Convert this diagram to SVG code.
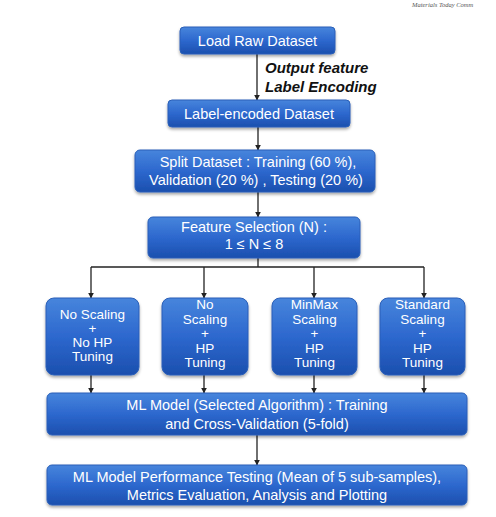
<svg xmlns="http://www.w3.org/2000/svg" width="496" height="517" viewBox="0 0 496 517">
<defs>
<linearGradient id="g" x1="0" y1="0" x2="0" y2="1">
<stop offset="0" stop-color="#4785dc"/>
<stop offset="0.5" stop-color="#2d68ce"/>
<stop offset="1" stop-color="#1b4fae"/>
</linearGradient>
<filter id="sh" x="-10%" y="-10%" width="120%" height="140%">
<feDropShadow dx="0" dy="2" stdDeviation="1.5" flood-color="#000" flood-opacity="0.35"/>
</filter>
<marker id="ar" viewBox="0 0 10 10" refX="9" refY="5" markerWidth="6" markerHeight="6" orient="auto" markerUnits="userSpaceOnUse">
<path d="M0,0 L10,5 L0,10 z" fill="#222"/>
</marker>
</defs>
<style>
.box{fill:url(#g);stroke:#2a5fb8;stroke-width:1;filter:url(#sh)}
.t{font-family:"Liberation Sans",Arial,sans-serif;font-size:14.5px;fill:#fff;text-anchor:middle}
.s{font-family:"Liberation Sans",Arial,sans-serif;font-size:13.5px;fill:#fff;text-anchor:middle}
.c{stroke:#222;stroke-width:1.3;fill:none}
.lab{font-family:"Liberation Sans",Arial,sans-serif;font-size:15px;font-weight:bold;font-style:italic;fill:#111}
</style>
<rect width="496" height="517" fill="#fff"/>
<text x="412" y="7" font-family="Liberation Serif,serif" font-size="6.5" font-style="italic" fill="#555">Materials Today Comm</text>

<g id="connectors">
<line class="c" x1="257" y1="54" x2="257" y2="100" marker-end="url(#ar)"/>
<line class="c" x1="258" y1="127" x2="258" y2="150" marker-end="url(#ar)"/>
<line class="c" x1="258" y1="192" x2="258" y2="217" marker-end="url(#ar)"/>
<polyline class="c" points="258,258 258,267"/>
<line class="c" x1="91" y1="267" x2="424" y2="267"/>
<line class="c" x1="91" y1="267" x2="91" y2="298" marker-end="url(#ar)"/>
<line class="c" x1="204" y1="267" x2="204" y2="298" marker-end="url(#ar)"/>
<line class="c" x1="314" y1="267" x2="314" y2="298" marker-end="url(#ar)"/>
<line class="c" x1="424" y1="267" x2="424" y2="298" marker-end="url(#ar)"/>
<line class="c" x1="91" y1="375" x2="91" y2="393" marker-end="url(#ar)"/>
<line class="c" x1="204" y1="375" x2="204" y2="393" marker-end="url(#ar)"/>
<line class="c" x1="314" y1="375" x2="314" y2="393" marker-end="url(#ar)"/>
<line class="c" x1="424" y1="375" x2="424" y2="393" marker-end="url(#ar)"/>
<line class="c" x1="257" y1="435" x2="257" y2="465" marker-end="url(#ar)"/>
<text class="lab" x="265" y="73">Output feature</text>
<text class="lab" x="265" y="92">Label Encoding</text>
</g>

<g id="n1"><rect class="box" x="180" y="27" width="155" height="27" rx="4"/><text class="t" x="257.5" y="46">Load Raw Dataset</text></g>
<g id="n2"><rect class="box" x="168" y="100" width="182" height="27" rx="4"/><text class="t" x="259" y="119">Label-encoded Dataset</text></g>
<g id="n3"><rect class="box" x="135" y="150" width="240" height="42" rx="5"/><text class="t" x="258" y="167">Split Dataset : Training (60 %),</text><text class="t" x="256" y="185">Validation (20 %) , Testing (20 %)</text></g>
<g id="n4"><rect class="box" x="148" y="217" width="212" height="41" rx="5"/><text class="t" x="254" y="232">Feature Selection (N) :</text><text class="t" x="254" y="249">1 ≤ N ≤ 8</text></g>
<g id="n5"><rect class="box" x="46" y="298" width="93" height="77" rx="8"/><text class="s" x="92.5" y="319">No Scaling</text><text class="s" x="92.5" y="333">+</text><text class="s" x="92.5" y="347">No HP</text><text class="s" x="92.5" y="361">Tuning</text></g>
<g id="n6"><rect class="box" x="162" y="298" width="86" height="77" rx="8"/><text class="s" x="205" y="309">No</text><text class="s" x="205" y="323.5">Scaling</text><text class="s" x="205" y="338">+</text><text class="s" x="205" y="352.5">HP</text><text class="s" x="205" y="367">Tuning</text></g>
<g id="n7"><rect class="box" x="272" y="298" width="85" height="77" rx="8"/><text class="s" x="314.5" y="309">MinMax</text><text class="s" x="314.5" y="323.5">Scaling</text><text class="s" x="314.5" y="338">+</text><text class="s" x="314.5" y="352.5">HP</text><text class="s" x="314.5" y="367">Tuning</text></g>
<g id="n8"><rect class="box" x="380" y="298" width="85" height="77" rx="8"/><text class="s" x="422.5" y="309">Standard</text><text class="s" x="422.5" y="323.5">Scaling</text><text class="s" x="422.5" y="338">+</text><text class="s" x="422.5" y="352.5">HP</text><text class="s" x="422.5" y="367">Tuning</text></g>
<g id="n9"><rect class="box" x="47" y="393" width="420" height="42" rx="5"/><text class="t" x="257" y="410">ML Model (Selected Algorithm) : Training</text><text class="t" x="257" y="429">and Cross-Validation (5-fold)</text></g>
<g id="n10"><rect class="box" x="47" y="465" width="420" height="40" rx="5"/><text class="t" x="257" y="481.5">ML Model Performance Testing (Mean of 5 sub-samples),</text><text class="t" x="257" y="499.5">Metrics Evaluation, Analysis and Plotting</text></g>
</svg>
